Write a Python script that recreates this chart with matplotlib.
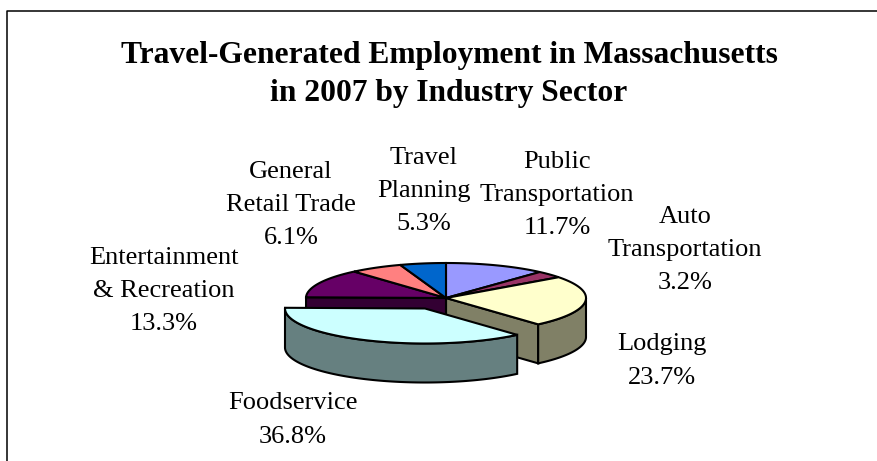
import numpy as np
import matplotlib
matplotlib.use("Agg")
import matplotlib.pyplot as plt
from matplotlib.patches import Polygon

plt.rcParams['font.family'] = ['Liberation Serif', 'DejaVu Serif']

sectors = ["Public\nTransportation", "Auto\nTransportation", "Lodging", "Foodservice",
           "Entertainment\n& Recreation", "General\nRetail Trade", "Travel\nPlanning"]
shares = [11.7, 3.2, 23.7, 36.8, 13.3, 6.1, 5.3]
colors = ["#9999FF", "#993366", "#FFFFCC", "#CCFFFF", "#660066", "#FF8080", "#0066CC"]
label_pos = [(557, 195), (685, 250), (662, 361), (293, 420), (164, 291), (291, 205), (424, 191)]
title_lines = ["Travel-Generated Employment in Massachusetts", "in 2007 by Industry Sector"]

CX, CY = 446, 298
RX, RY = 140, 35
DEPTH = 39
EXPLODED = "Foodservice"
EXPLODE_DX, EXPLODE_DY = -21, 10.5


def shade(color, factor=0.5):
    rgb = np.array(matplotlib.colors.to_rgb(color))
    return tuple(rgb * factor)


def edge_points(a0, a1, dx=0, dy=0):
    # angles are clockwise from the top, in degrees
    t = np.radians(np.linspace(a0, a1, 120))
    return np.column_stack([CX + dx + RX * np.sin(t), CY + dy - RY * np.cos(t)])


fig = plt.figure(figsize=(8.78, 4.61), dpi=100)
ax = fig.add_axes([0, 0, 1, 1])
ax.set_xlim(0, 878)
ax.set_ylim(461, 0)
ax.axis("off")

# chart frame, cut off at the right and bottom of the image
ax.plot([7.5, 7.5, 878], [461, 11.5, 11.5], color="black", lw=1.1)

bounds = np.cumsum([0] + shares) / sum(shares) * 360

# sides of the fixed slices first, exploded slice goes on top
for i, name in enumerate(sectors):
    if name == EXPLODED:
        continue
    a0, a1 = bounds[i], bounds[i + 1]
    side = shade(colors[i])
    # cut faces that look to the viewer
    for a in (a0, a1):
        if 90 < a < 300:
            p = edge_points(a, a, 0, 0)[0]
            face = [(CX, CY), p, p + (0, DEPTH), (CX, CY + DEPTH)]
            ax.add_patch(Polygon(face, closed=True, fc=side, ec="black", lw=1.5))
    lo, hi = max(a0, 90), min(a1, 270)
    if lo < hi:
        top = edge_points(lo, hi)
        ax.add_patch(Polygon(np.vstack([top, (top + (0, DEPTH))[::-1]]), closed=True,
                             fc=side, ec="black", lw=1.5))

for i, name in enumerate(sectors):
    if name == EXPLODED:
        continue
    pts = np.vstack([[(CX, CY)], edge_points(bounds[i], bounds[i + 1])])
    ax.add_patch(Polygon(pts, closed=True, fc=colors[i], ec="black", lw=1.5))

i = sectors.index(EXPLODED)
a0, a1 = bounds[i], bounds[i + 1]
top = edge_points(a0, min(a1, 270), EXPLODE_DX, EXPLODE_DY)
ax.add_patch(Polygon(np.vstack([top, (top + (0, DEPTH))[::-1]]), closed=True,
                     fc=shade(colors[i]), ec="black", lw=1.5))
pts = np.vstack([[(CX + EXPLODE_DX, CY + EXPLODE_DY)], edge_points(a0, a1, EXPLODE_DX, EXPLODE_DY)])
ax.add_patch(Polygon(pts, closed=True, fc=colors[i], ec="black", lw=1.5))

for name, share, (x, y) in zip(sectors, shares, label_pos):
    ax.text(x, y, "{}\n{}%".format(name, share), ha="center", va="center",
            fontsize=19, linespacing=1.66, color="black")

ax.text(449, 55, title_lines[0], ha="center", va="center", fontsize=22.7, fontweight="bold")
ax.text(449, 93, title_lines[1], ha="center", va="center", fontsize=22.7, fontweight="bold")

fig.savefig("out.png", dpi=100)
